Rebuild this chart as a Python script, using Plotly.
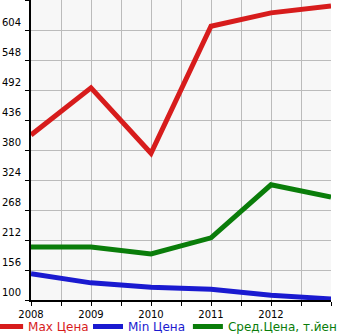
import plotly.graph_objects as go

years = [2008, 2009, 2010, 2011, 2012, 2013]
max_price = [408, 496, 374, 611, 636, 649]
min_price = [149, 132, 124, 120, 109, 102]
avg_price = [199, 199, 186, 216, 315, 292]
y_ticks = [100, 156, 212, 268, 324, 380, 436, 492, 548, 604]
x_labels = ["2008", "2009", "2010", "2011", "2012"]

fig = go.Figure()
series = [
    ("Max Цена", max_price, "#d71c1c", "legend", -0.143),
    ("Min Цена", min_price, "#1a1ad0", "legend2", 0.19),
    ("Сред.Цена, т.йен", avg_price, "#0a7d0a", "legend3", 0.523),
]
legends = {}
for name, vals, col, lg, lx in series:
    fig.add_trace(go.Scatter(
        x=years, y=vals, mode="lines",
        name=f"<span style='color:{col}'>{name}</span>",
        line=dict(color=col, width=5),
        legend=lg,
    ))
    legends[lg] = dict(orientation="h", x=lx, xanchor="left", y=-0.04,
                       yanchor="top", font=dict(size=12), itemwidth=30,
                       bgcolor="rgba(0,0,0,0)", borderwidth=0)

xt = [2008 + 0.5 * i for i in range(11)]
xtt = []
for v in xt:
    xtt.append(str(int(v)) if v == int(v) and str(int(v)) in x_labels else "")

fig.update_layout(
    width=345, height=335,
    margin=dict(l=31, r=14, t=0, b=35, autoexpand=False),
    paper_bgcolor="white",
    plot_bgcolor="#f7f7f7",
    font=dict(family="DejaVu Sans", size=10, color="black"),
    showlegend=True,
    **legends,
)
fig.update_xaxes(
    range=[2008, 2013], tickvals=xt, ticktext=xtt,
    showgrid=True, gridcolor="#bbbbbb", gridwidth=1,
    showline=True, linecolor="black", linewidth=2,
    ticks="outside", ticklen=4, tickcolor="black",
    zeroline=False, fixedrange=True,
)
fig.update_yaxes(
    range=[100, 660], tickvals=y_ticks + [660],
    ticktext=[str(v) for v in y_ticks] + [""],
    showgrid=True, gridcolor="#bbbbbb", gridwidth=1,
    showline=True, linecolor="black", linewidth=2,
    ticks="outside", ticklen=4, tickcolor="black",
    ticklabelposition="outside top", ticklabelstandoff=6,
    zeroline=False, fixedrange=True,
)
fig.write_html("out.html")
